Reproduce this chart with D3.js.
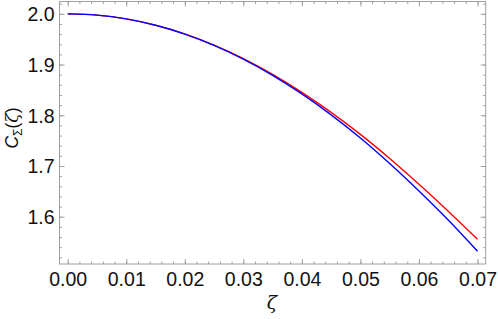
<!DOCTYPE html>
<html><head><meta charset="utf-8">
<script src="https://cdn.jsdelivr.net/npm/d3@7"></script>
<style>body{margin:0;background:#fff}svg{display:block}</style>
</head><body>
<svg id="c" width="498" height="319"></svg>
<script>
const zeta = [0, 0.005, 0.01, 0.015, 0.02, 0.025, 0.03, 0.035, 0.04, 0.045, 0.05, 0.055, 0.06, 0.065, 0.07];
const redVals = [2.0000, 1.9975, 1.9900, 1.9776, 1.9604, 1.9384, 1.9119, 1.8808, 1.8453, 1.8058, 1.7623, 1.7148, 1.6641, 1.6110, 1.5555];
const blueVals = [2.0000, 1.9975, 1.9900, 1.9775, 1.9601, 1.9378, 1.9107, 1.8788, 1.8421, 1.8009, 1.7552, 1.7049, 1.6507, 1.5935, 1.5320];
const xTicks = [0, 0.01, 0.02, 0.03, 0.04, 0.05, 0.06, 0.07];
const yTicks = [1.6, 1.7, 1.8, 1.9, 2.0];
const xMinor = d3.range(0, 0.0715, 0.002);
const yMinor = d3.range(1.52, 2.021, 0.02);

const L = 59.5, R = 485.7, T = 1.5, B = 264;
const x = d3.scaleLinear().domain([-0.0014, 0.0714]).range([L, R]);
const y = d3.scaleLinear().domain([1.5068, 2.0243]).range([B, T]);

const svg = d3.select("#c");
const font = "'Liberation Sans', Arial, sans-serif";
const gray = "#a0a0a0";

const defs = svg.append("defs");
defs.append("clipPath").attr("id","clip").append("rect").attr("x",L).attr("y",T).attr("width",R-L).attr("height",B-T);

svg.append("rect").attr("x",L).attr("y",T).attr("width",R-L).attr("height",B-T)
  .attr("fill","none").attr("stroke",gray).attr("stroke-width",1);

const mkAxis = (axisFn, scale, vals, size, fmt) => axisFn(scale).tickValues(vals).tickSizeInner(size).tickSizeOuter(0).tickFormat(fmt);

function drawAxis(axis, tx, ty, labels) {
  const g = svg.append("g").attr("transform",`translate(${tx},${ty})`).call(axis);
  g.select(".domain").remove();
  g.selectAll("line").attr("stroke",gray);
  g.selectAll("text").attr("font-family",font).attr("font-size",19.5).attr("fill","#111");
  if(!labels) g.selectAll("text").remove();
  return g;
}
const none = () => "";
drawAxis(mkAxis(d3.axisTop, x, xMinor, 2.5, none), 0, B, false);
const gb = drawAxis(mkAxis(d3.axisTop, x, xTicks, 5, d3.format(".2f")), 0, B, true);
gb.selectAll("text").attr("y", 22).attr("dy", 0);
drawAxis(mkAxis(d3.axisBottom, x, xMinor, 2.5, none), 0, T, false);
drawAxis(mkAxis(d3.axisBottom, x, xTicks, 5, none), 0, T, false);
drawAxis(mkAxis(d3.axisRight, y, yMinor, 2.5, none), L, 0, false);
const gl = drawAxis(mkAxis(d3.axisRight, y, yTicks, 5, d3.format(".1f")), L, 0, true);
gl.selectAll("text").attr("x", -5).attr("text-anchor","end").attr("dy","0.35em");
drawAxis(mkAxis(d3.axisLeft, y, yMinor, 2.5, none), R, 0, false);
drawAxis(mkAxis(d3.axisLeft, y, yTicks, 5, none), R, 0, false);

const line = d3.line().x((d,i)=>x(zeta[i])).y(d=>y(d)).curve(d3.curveMonotoneX);
const plot = svg.append("g").attr("clip-path","url(#clip)");
plot.append("path").datum(redVals).attr("d",line).attr("fill","none").attr("stroke","#ff0000").attr("stroke-width",1.4);
plot.append("path").datum(blueVals).attr("d",line).attr("fill","none").attr("stroke","#0000ff").attr("stroke-width",1.4);

svg.append("text").attr("x", 272).attr("y", 309).attr("text-anchor","middle")
  .attr("font-family","'DejaVu Serif', 'Liberation Serif', serif").attr("font-style","italic").attr("font-size",19).attr("fill","#111").text("ζ");
const yl = svg.append("text").attr("transform",`translate(18,128) rotate(-90)`).attr("text-anchor","middle")
  .attr("font-family",font).attr("font-size",17.5).attr("fill","#111");
yl.append("tspan").attr("font-style","italic").text("C");
yl.append("tspan").attr("font-size",12).attr("dy",4).text("Σ");
yl.append("tspan").attr("dy",-4).text("(");
yl.append("tspan").attr("font-style","italic").attr("font-family","'DejaVu Serif', serif").text("ζ");
yl.append("tspan").text(")");
</script>
</body></html>
